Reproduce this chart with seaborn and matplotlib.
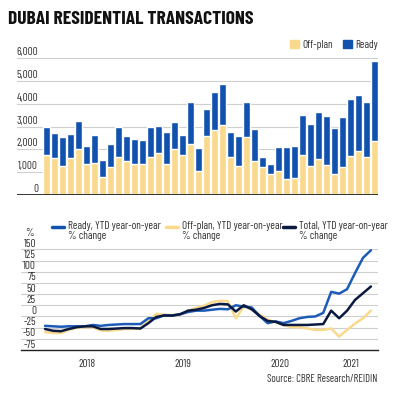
import numpy as np
import pandas as pd
import matplotlib.pyplot as plt
import seaborn as sns
from matplotlib.patches import Patch
from matplotlib.lines import Line2D

sns.set_style('white')
plt.rcParams['font.family'] = ['Barlow Condensed', 'DejaVu Sans']

# 月度数据（2017-08 起，共 42 个月）
months = pd.date_range('2017-08-01', periods=42, freq='MS').strftime('%Y-%m').tolist()

offplan = [1770, 1610, 1290, 1610, 2000, 1360, 1420, 790, 1240, 1670, 1490, 1360, 1360, 1690,
           1860, 1380, 2020, 1740, 2250, 1040, 2590, 2870, 3060, 1650, 1290, 2550, 1490, 1250,
           920, 1070, 700, 760, 1760, 1270, 1570, 1300, 920, 1230, 1710, 1950, 1670, 2390]
ready = [1220, 1100, 1270, 1080, 1240, 810, 1230, 750, 1010, 1320, 1100, 1090, 1040, 1300,
         1190, 1400, 1200, 900, 1850, 1040, 1170, 1650, 1790, 1130, 1320, 1510, 1390, 425,
         440, 1050, 1420, 1410, 1740, 1830, 2060, 2170, 2040, 2210, 2520, 2440, 2430, 3510]

ready_yoy = [-21, -22, -23, -22, -22, -22, -19, -21, -19, -18, -17, -17, -17, -4,
             -4, 3, 2, 5, 10, 13, 13, 15, 17, 16, 25, 22, 20, 1,
             -15, -11, -15, -10, -4, -1, 0, 8, 55, 51, 61, 97, 131, 148]
offplan_yoy = [-35, -37, -37, -30, -25, -24, -24, -31, -32, -30, -28, -28, -26, -11,
               6, 4, 3, 4, 13, 19, 24, 32, 35, 34, -4, 22, 16, 4,
               -7, -13, -19, -24, -24, -27, -30, -30, -27, -45, -30, -16, -4, 13]
total_yoy = [-28, -32, -33, -28, -24, -22, -22, -28, -28, -27, -26, -26, -27, -15,
             -1, 2, 2, 5, 13, 15, 19, 25, 28, 27, 11, 25, 16, 1,
             -10, -12, -19, -19, -19, -19, -18, -17, 13, -4, 13, 37, 52, 67]

bar_ticks = [0, 1000, 2000, 3000, 4000, 5000, 6000]
pct_ticks = [-75, -50, -25, 0, 25, 50, 75, 100, 125, 150]
year_pos = [5.3, 17.4, 29.6, 38.5]
year_labels = ['2018', '2019', '2020', '2021']

C_OFF = '#F9D98C'
C_READY = '#1152AE'
C_TOTAL = '#0B1A40'
GRID = '#cfcfcf'
TXT = '#333333'
FS = 8

df = pd.DataFrame({'month': months, 'offplan': offplan, 'ready': ready})
df['total'] = df['offplan'] + df['ready']
idx = np.arange(len(months))

fig = plt.figure(figsize=(4, 3.95), dpi=100)

# 上图：堆叠柱状图
ax1 = fig.add_axes([17 / 400, 0.5063, 361 / 400, 0.3519])
sns.barplot(x=idx, y=df['total'], color=C_READY, saturation=1, width=0.86, ax=ax1)
sns.barplot(x=idx, y=df['offplan'], color=C_OFF, saturation=1, width=0.86, ax=ax1)
ax1.set_xlim(-3.6875, 41.4375)
ax1.set_ylim(0, 6100)
ax1.set_yticks(bar_ticks)
ax1.grid(axis='y', color=GRID, lw=0.8)
ax1.set_axisbelow(True)
ax1.tick_params(axis='both', length=0, labelleft=False, labelbottom=False)
ax1.set_xlabel('')
ax1.set_ylabel('')
sns.despine(ax=ax1, left=True, top=True, right=True, bottom=True)
ax1.axhline(0, color='#222222', lw=1.3, zorder=5)
for v in bar_ticks:
    ax1.annotate(f'{v:,}', xy=(0.058, v), xycoords=ax1.get_yaxis_transform(),
                 xytext=(0, 2.2), textcoords='offset points',
                 ha='right', va='baseline', fontsize=FS, color=TXT)

fig.legend(handles=[Patch(color=C_OFF, label='Off-plan'), Patch(color=C_READY, label='Ready')],
           loc='center right', bbox_to_anchor=(378 / 400, (395 - 45) / 395), ncol=2,
           frameon=False, fontsize=FS, handlelength=0.8, handleheight=0.8,
           handletextpad=0.3, columnspacing=0.9, borderaxespad=0, borderpad=0,
           labelcolor=TXT)

fig.text(8 / 400, (395 - 19.5) / 395, 'DUBAI RESIDENTIAL TRANSACTIONS',
         fontsize=14, fontweight='bold', color='#111111', va='center', ha='left')

# 下图：同比变化折线
ax2 = fig.add_axes([20.7 / 400, 0.1139, 357 / 400, 0.2605])
sns.lineplot(x=idx, y=offplan_yoy, color=C_OFF, lw=1.8, ax=ax2)
sns.lineplot(x=idx, y=ready_yoy, color='#1C5BB8', lw=1.8, ax=ax2)
sns.lineplot(x=idx, y=total_yoy, color=C_TOTAL, lw=1.8, ax=ax2)
ax2.set_xlim(-3.06, 41.85)
ax2.set_ylim(-75, 155)
ax2.set_yticks(pct_ticks)
ax2.grid(axis='y', color=GRID, lw=0.8)
ax2.set_axisbelow(True)
ax2.set_xticks(year_pos)
ax2.set_xticklabels(year_labels)
ax2.tick_params(axis='y', length=0, labelleft=False)
ax2.tick_params(axis='x', direction='out', length=4, width=0.9, color='#222222',
                labelsize=FS, labelcolor=TXT, pad=2.5)
sns.despine(ax=ax2, left=True, top=True, right=True)
ax2.spines['bottom'].set_color('#222222')
ax2.spines['bottom'].set_linewidth(1.0)
for v in pct_ticks:
    ax2.annotate(f'{v}', xy=(0.043, v), xycoords=ax2.get_yaxis_transform(),
                 xytext=(0, 1.8), textcoords='offset points',
                 ha='right', va='baseline', fontsize=FS, color=TXT)
ax2.annotate('%', xy=(0.038, 150), xycoords=ax2.get_yaxis_transform(),
             xytext=(0, 9.5), textcoords='offset points',
             ha='right', va='baseline', fontsize=FS, color=TXT)

# 下图图例（手工放置，线段与第一行文字对齐）
entries = [(52, C_READY, 'Ready, YTD year-on-year\n% change'),
           (166, C_OFF, 'Off-plan, YTD year-on-year\n% change'),
           (283, C_TOTAL, 'Total, YTD year-on-year\n% change')]
for x0, col, lab in entries:
    yy = (395 - 227) / 395
    fig.add_artist(Line2D([x0 / 400, (x0 + 12) / 400], [yy, yy], color=col, lw=2.5))
    fig.text((x0 + 16) / 400, (395 - 221) / 395, lab, fontsize=FS, color=TXT,
             va='top', ha='left', linespacing=1.0)

fig.text(377 / 400, (395 - 379) / 395, 'Source: CBRE Research/REIDIN',
         fontsize=7.6, color=TXT, ha='right', va='center')

fig.savefig('out.png', dpi=100, facecolor='white')
